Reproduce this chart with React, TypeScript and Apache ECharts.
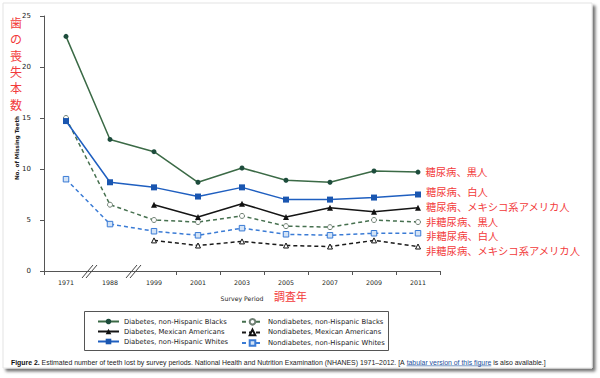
import React, { useEffect, useRef } from 'react';
import * as echarts from 'echarts';

const years = ['1971', '1988', '1999', '2001', '2003', '2005', '2007', '2009', '2011'];
const diabetesBlacks = [23.0, 12.9, 11.7, 8.7, 10.1, 8.9, 8.7, 9.8, 9.7];
const diabetesMexican = [null, null, 6.5, 5.3, 6.6, 5.3, 6.2, 5.8, 6.2];
const diabetesWhites = [14.7, 8.7, 8.2, 7.3, 8.2, 7.0, 7.0, 7.2, 7.5];
const nondiabetesBlacks = [15.0, 6.5, 5.0, 4.8, 5.4, 4.4, 4.3, 5.0, 4.8];
const nondiabetesMexican = [null, null, 3.0, 2.5, 2.9, 2.5, 2.4, 3.0, 2.4];
const nondiabetesWhites = [9.0, 4.6, 3.9, 3.5, 4.2, 3.6, 3.5, 3.7, 3.7];

const seriesNames = [
  'Diabetes, non-Hispanic Blacks',
  'Diabetes, Mexican Americans',
  'Diabetes, non-Hispanic Whites',
  'Nondiabetes, non-Hispanic Blacks',
  'Nondiabetes, Mexican Americans',
  'Nondiabetes, non-Hispanic Whites',
];
const jpLabels = [
  '糖尿病、黒人',
  '糖尿病、メキシコ系アメリカ人',
  '糖尿病、白人',
  '非糖尿病、黒人',
  '非糖尿病、メキシコ系アメリカ人',
  '非糖尿病、白人',
];
const yMin = 0;
const yMax = 25;
const yInterval = 5;
const yAxisTitle = 'No. of Missing Teeth';
const xAxisTitle = 'Survey Period';
const yAxisTitleJp = ['歯', 'の', '喪', '失', '本', '数'];
const xAxisTitleJp = '調査年';
const captionBold = 'Figure 2.';
const captionMain = ' Estimated number of teeth lost by survey periods. National Health and Nutrition Examination (NHANES) 1971–2012. [A ';
const captionLink = 'tabular version of this figure';
const captionEnd = ' is also available.]';

const RED = '#f23a3a';
const AXIS_FONT = 'DejaVu Sans';
const JP_FONT = 'Noto Sans CJK JP';
const CAP_FONT = 'Liberation Sans';

export default function App() {
  const ref = useRef<HTMLDivElement>(null);

  useEffect(() => {
    if (!ref.current) return;
    const chart = echarts.init(ref.current, null, { renderer: 'svg' });

    const styles = [
      { line: '#3b6a46', fill: '#1d4c3c', border: '#1d4c3c', symbol: 'circle', size: 5, dashed: false, dy: -0.5 },
      { line: '#151515', fill: '#111', border: '#111', symbol: 'triangle', size: 6, dashed: false, dy: -1.7 },
      { line: '#1f5fc0', fill: '#1a56b0', border: '#1a56b0', symbol: 'rect', size: 6, dashed: false, dy: -3.3 },
      { line: '#46704f', fill: '#ffffff', border: '#6f7f73', symbol: 'circle', size: 5, dashed: true, dy: -1 },
      { line: '#1a1a1a', fill: '#ffffff', border: '#111', symbol: 'triangle', size: 5, dashed: true, dy: 4.3 },
      { line: '#3a7bd5', fill: '#d3e3f6', border: '#3a7bd5', symbol: 'rect', size: 5.5, dashed: true, dy: 2.6 },
    ];
    const datasets = [diabetesBlacks, diabetesMexican, diabetesWhites, nondiabetesBlacks, nondiabetesMexican, nondiabetesWhites];

    const series = datasets.map((arr, si) => {
      const st = styles[si];
      return {
        type: 'line',
        name: seriesNames[si],
        symbol: st.symbol,
        symbolSize: st.size,
        showAllSymbol: true,
        z: 10 - si,
        lineStyle: { color: st.line, width: 1.5, type: st.dashed ? [4, 3] : 'solid' },
        itemStyle: { color: st.fill, borderColor: st.border, borderWidth: st.dashed ? 1 : 0 },
        emphasis: { disabled: true },
        data: arr.map((v, i) =>
          i === arr.length - 1
            ? {
                value: v,
                label: {
                  show: true,
                  position: 'right',
                  distance: 5,
                  offset: [0, st.dy],
                  formatter: jpLabels[si],
                  color: RED,
                  fontSize: 10.3,
                  lineHeight: 12,
                  fontFamily: JP_FONT,
                },
              }
            : v
        ),
      };
    });

    const legendText = { fontSize: 6.8, color: '#222', fontFamily: AXIS_FONT, lineHeight: 7 };

    const option: any = {
      animation: false,
      backgroundColor: 'transparent',
      grid: { left: 44, right: 160, top: 16, bottom: 107, containLabel: false },
      legend: [
        {
          data: [seriesNames[0], seriesNames[1], seriesNames[2]],
          orient: 'vertical',
          left: 92,
          top: 313,
          itemWidth: 21,
          itemHeight: 7,
          itemGap: 3,
          textStyle: legendText,
          selectedMode: false,
        },
        {
          data: [seriesNames[3], seriesNames[4], seriesNames[5]],
          orient: 'vertical',
          left: 236,
          top: 313,
          itemWidth: 21,
          itemHeight: 7,
          itemGap: 3,
          textStyle: legendText,
          selectedMode: false,
        },
      ],
      xAxis: {
        type: 'category',
        data: years,
        boundaryGap: true,
        name: xAxisTitle,
        nameLocation: 'middle',
        nameGap: 24,
        nameTextStyle: { fontSize: 6.2, color: '#222', fontFamily: AXIS_FONT },
        axisLine: { lineStyle: { color: '#555', width: 1 } },
        axisTick: {
          show: true,
          length: 4,
          lineStyle: { color: '#555' },
          interval: (index: number) => index !== 1 && index !== 2,
        },
        axisLabel: { fontSize: 6.3, color: '#222', fontFamily: AXIS_FONT, margin: 8 },
        splitLine: { show: false },
      },
      yAxis: {
        type: 'value',
        min: yMin,
        max: yMax,
        interval: yInterval,
        axisLine: { show: true, lineStyle: { color: '#555', width: 1 } },
        axisTick: { show: true, length: 4, lineStyle: { color: '#555' } },
        axisLabel: { fontSize: 7, color: '#222', fontFamily: AXIS_FONT, margin: 13 },
        splitLine: { show: false },
      },
      series,
    };

    chart.setOption(option);

    // pixel positions from the axes
    const c0 = chart.convertToPixel({ xAxisIndex: 0 }, years[0]) as number;
    const c1 = chart.convertToPixel({ xAxisIndex: 0 }, years[1]) as number;
    const c2 = chart.convertToPixel({ xAxisIndex: 0 }, years[2]) as number;
    const cLast = chart.convertToPixel({ xAxisIndex: 0 }, years[years.length - 1]) as number;
    const y0 = chart.convertToPixel({ yAxisIndex: 0 }, 0) as number;
    const yTop = chart.convertToPixel({ yAxisIndex: 0 }, yMax) as number;
    const b1 = (c0 + c1) / 2 + 2;
    const b2 = (c1 + c2) / 2 + 2;
    const xMid = (c0 + cLast) / 2;

    const breakMark = (cx: number) => [
      { type: 'line', z: 20, shape: { x1: cx - 8, y1: y0 + 7, x2: cx + 3, y2: y0 - 6 }, style: { stroke: '#444', lineWidth: 1 } },
      { type: 'line', z: 20, shape: { x1: cx - 4, y1: y0 + 7, x2: cx + 7, y2: y0 - 6 }, style: { stroke: '#444', lineWidth: 1 } },
    ];

    // caption underline positions
    const cv = document.createElement('canvas');
    const ctx = cv.getContext('2d')!;
    const capSize = 6.9;
    ctx.font = `bold ${capSize}px "${CAP_FONT}"`;
    const wBold = ctx.measureText(captionBold).width;
    ctx.font = `${capSize}px "${CAP_FONT}"`;
    const wMain = ctx.measureText(captionMain).width;
    const wLink = ctx.measureText(captionLink).width;
    const capX = 11;
    const capY = 362;

    chart.setOption({
      graphic: [
        {
          type: 'rect',
          z: -100,
          shape: { x: 3, y: 3, width: 589, height: 365 },
          style: {
            fill: '#fff',
            stroke: '#e4e4e4',
            lineWidth: 1,
            shadowBlur: 3,
            shadowOffsetX: 3,
            shadowOffsetY: 3,
            shadowColor: 'rgba(0,0,0,0.55)',
          },
        },
        ...yAxisTitleJp.map((ch, i) => ({
          type: 'text',
          x: 16,
          y: yTop + 6.5 + i * 16.3,
          z: 20,
          style: {
            text: ch,
            fill: RED,
            fontSize: 12,
            fontFamily: JP_FONT,
            align: 'center',
            verticalAlign: 'middle',
          },
        })),
        {
          type: 'text',
          x: 17,
          y: 148,
          rotation: Math.PI / 2,
          z: 20,
          style: {
            text: yAxisTitle,
            fill: '#222',
            fontSize: 5.6,
            fontWeight: 'bold',
            fontFamily: AXIS_FONT,
            align: 'center',
            verticalAlign: 'middle',
          },
        },
        {
          type: 'text',
          x: xMid + 32,
          y: y0 + 25,
          z: 20,
          style: {
            text: xAxisTitleJp,
            fill: RED,
            fontSize: 11,
            fontFamily: JP_FONT,
            align: 'left',
            verticalAlign: 'middle',
          },
        },
        ...breakMark(b1),
        ...breakMark(b2),
        {
          type: 'rect',
          z: 20,
          shape: { x: 84.5, y: 311.5, width: 304, height: 39 },
          style: { fill: 'none', stroke: '#555', lineWidth: 1 },
        },
        {
          type: 'text',
          x: capX,
          y: capY,
          z: 20,
          style: {
            text: `{b|${captionBold}}{n|${captionMain}}{a|${captionLink}}{n|${captionEnd}}`,
            verticalAlign: 'middle',
            rich: {
              b: { fontWeight: 'bold', fontSize: capSize, fontFamily: CAP_FONT, fill: '#111' },
              n: { fontSize: capSize, fontFamily: CAP_FONT, fill: '#222' },
              a: { fontSize: capSize, fontFamily: CAP_FONT, fill: '#1d4f9c' },
            },
          },
        },
        {
          type: 'line',
          z: 20,
          shape: { x1: capX + wBold + wMain, y1: capY + 3.8, x2: capX + wBold + wMain + wLink, y2: capY + 3.8 },
          style: { stroke: '#1d4f9c', lineWidth: 0.6 },
        },
      ],
    });

    return () => chart.dispose();
  }, []);

  return (
    <div
      ref={ref}
      style={{ position: 'fixed', left: 0, top: 0, width: 600, height: 378, background: '#fff' }}
    />
  );
}
